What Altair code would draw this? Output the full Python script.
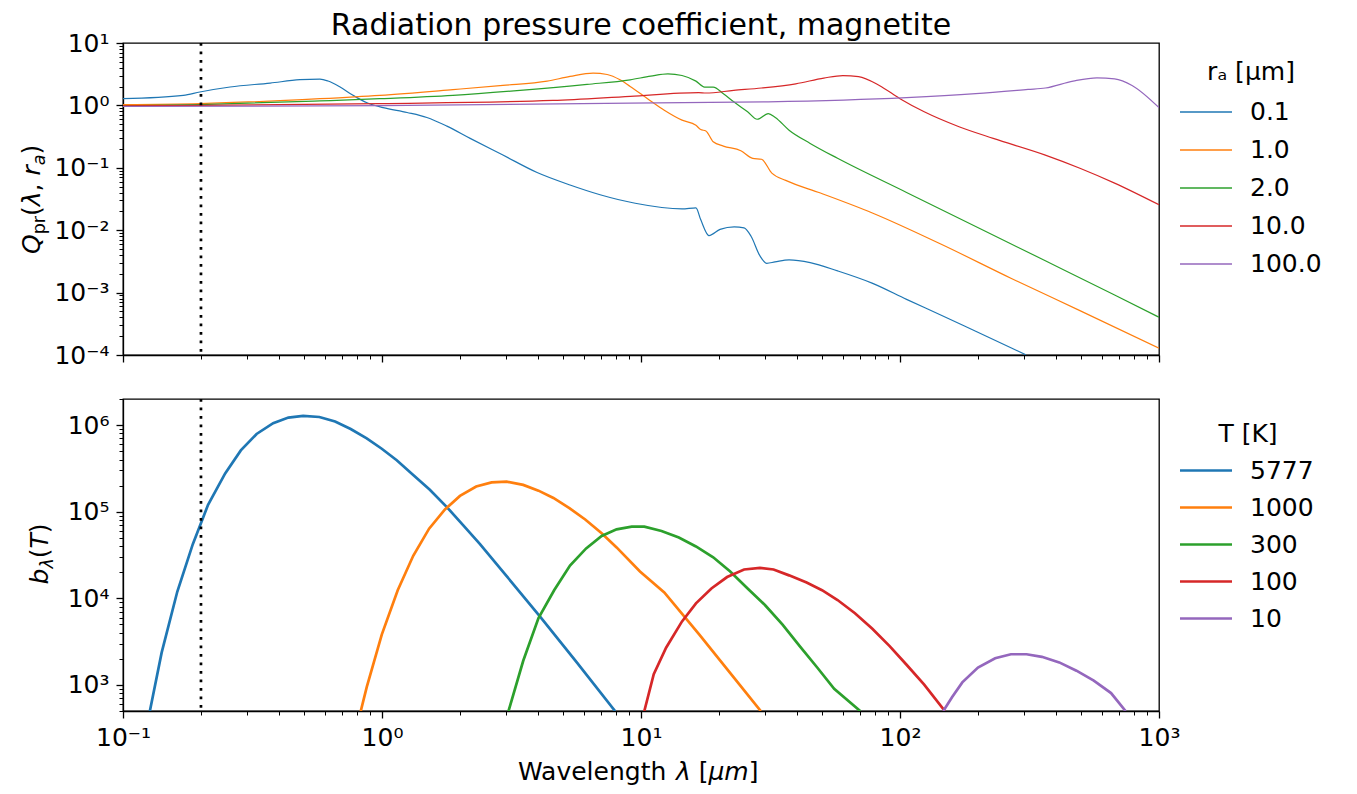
import altair as alt
import pandas as pd

FONT = "DejaVu Sans"
TAB10 = ["#1f77b4", "#ff7f0e", "#2ca02c", "#d62728", "#9467bd"]

# ---------------- Top panel: radiation pressure coefficient ----------------
r_labels = ["0.1", "1.0", "2.0", "10.0", "100.0"]

q_r01_wl = [0.1, 0.171, 0.198, 0.259, 0.370, 0.482, 0.576, 0.619, 0.689, 0.773, 0.875, 1.01,
            1.25, 1.49, 1.78, 2.19, 2.93, 3.97, 5.32, 6.95, 9.5, 14.4, 16.3, 17.0, 18.3, 20.2,
            22.9, 25.0, 26.6, 28.8, 30.6, 32.9, 37.3, 45.0, 57.4, 78, 106, 145, 196, 268, 306]
q_r01 = [1.28, 1.45, 1.64, 1.97, 2.28, 2.58, 2.64, 2.46, 1.97, 1.45, 1.10, 0.92, 0.77, 0.64,
         0.465, 0.296, 0.160, 0.084, 0.053, 0.037, 0.027, 0.0219, 0.0228, 0.0148, 0.0082, 0.0103,
         0.0113, 0.0109, 0.0080, 0.00387, 0.00295, 0.0031, 0.00334, 0.00303, 0.00223, 0.00142,
         0.00078, 0.00043, 0.00024, 0.000131, 0.000101]

q_r1_wl = [0.1, 0.198, 0.576, 0.982, 1.88, 2.93, 4.34, 5.32, 6.53, 7.40, 8.30, 9.08, 10.6, 12.3,
           14.4, 16.3, 17.0, 17.8, 19.0, 20.8, 24.3, 27.0, 29.2, 32.0, 36.2, 49.3, 78.2, 145, 268,
           495, 1000]
q_r1 = [1.03, 1.07, 1.28, 1.45, 1.79, 2.09, 2.45, 2.91, 3.29, 3.13, 2.57, 2.01, 1.28, 0.836, 0.58,
        0.48, 0.41, 0.39, 0.262, 0.223, 0.188, 0.142, 0.137, 0.082, 0.0628, 0.0394, 0.0189, 0.0059,
        0.0017, 0.000515, 0.000129]

q_r2_wl = [0.1, 0.198, 0.576, 0.982, 1.88, 3.41, 6.19, 9.08, 10.9, 12.7, 14.4, 16.3, 17.6, 19.0,
           20.8, 22.8, 25.8, 28.1, 31.0, 33.0, 37.3, 45.0, 57.4, 106, 196, 364, 674, 1000]
q_r2 = [0.98, 1.03, 1.18, 1.28, 1.45, 1.74, 2.17, 2.57, 2.95, 3.21, 3.01, 2.45, 1.97, 1.97, 1.54,
        1.14, 0.79, 0.60, 0.74, 0.64, 0.40, 0.246, 0.142, 0.0403, 0.01146, 0.00324, 0.000917,
        0.000403]

q_r10_wl = [0.1, 0.198, 0.982, 4.57, 9.08, 16.7, 17.8, 22.8, 29.2, 39.6, 50.8, 60.2, 69.2, 83.2,
            100, 124, 169, 229, 364, 495, 674, 1000]
q_r10 = [0.98, 1.0, 1.07, 1.2, 1.40, 1.60, 1.58, 1.74, 1.90, 2.22, 2.74, 3.01, 2.90, 2.09, 1.28,
         0.79, 0.455, 0.296, 0.160, 0.0986, 0.0569, 0.0256]

q_r100_wl = [0.1, 1.0, 9.08, 31.0, 106, 196, 312, 364, 466, 576, 674, 787, 1000]
q_r100 = [0.96, 0.99, 1.09, 1.14, 1.33, 1.54, 1.80, 1.90, 2.45, 2.77, 2.67, 2.09, 0.92]

# ---------------- Bottom panel: Planck function ----------------
t_labels = ["5777", "1000", "300", "100", "10"]

b_5777_wl = [0.127, 0.141, 0.162, 0.186, 0.213, 0.248, 0.285, 0.328, 0.380, 0.435, 0.496, 0.573,
             0.659, 0.757, 0.873, 0.998, 1.14, 1.32, 1.53, 1.78, 2.06, 2.39, 2.94, 4.07, 5.65, 7.94]
b_5777 = [500, 2360, 11900, 42200, 120000, 277000, 510000, 789000, 1050000, 1220000, 1280000,
          1240000, 1100000, 900000, 703000, 533000, 392000, 265000, 179000, 113000, 69500, 42200,
          20100, 6170, 1820, 500]

b_1000_wl = [0.828, 0.873, 0.998, 1.15, 1.32, 1.52, 1.75, 2.00, 2.31, 2.65, 3.03, 3.51, 4.02, 4.59,
             5.29, 6.09, 7.05, 8.05, 9.91, 12.3, 16.8, 22.8, 29.0]
b_1000 = [500, 942, 3810, 12400, 31000, 63700, 106000, 152000, 195000, 218000, 222000, 204000,
          175000, 144000, 110000, 81300, 56300, 38700, 20400, 11700, 3810, 1220, 500]

b_300_wl = [3.08, 3.51, 4.02, 4.62, 5.32, 6.14, 7.05, 8.05, 9.21, 10.3, 12.0, 14.0, 16.3, 19.0,
            22.1, 25.8, 30.1, 35.2, 41.0, 47.9, 55.7, 70.2]
b_300 = [500, 1900, 5900, 12400, 23900, 37700, 52500, 62500, 67100, 67100, 59800, 50300, 39700,
         29800, 20400, 13000, 8370, 4960, 2810, 1590, 900, 500]

b_100_wl = [10.3, 11.2, 12.5, 14.4, 16.3, 18.7, 21.5, 25.0, 28.8, 32.5, 37.3, 43.6, 50.0, 57.4,
            67.0, 78.2, 91.2, 106, 124, 149]
b_100 = [500, 1330, 2690, 5410, 8740, 13000, 17600, 21500, 22500, 21500, 18400, 15200, 12400,
         9550, 6730, 4460, 2810, 1710, 1010, 500]

b_10_wl = [147, 159, 174, 200, 233, 268, 308, 353, 412, 480, 560, 653, 743]
b_10 = [500, 724, 1070, 1590, 2030, 2260, 2260, 2110, 1820, 1460, 1120, 805, 500]

marker_wavelength = 0.2

# axis ticks
x_major = [0.1, 1, 10, 100, 1000]
x_exps = [-1, 0, 1, 2, 3]
x_minor = [k * 10.0 ** e for e in range(-1, 3) for k in range(2, 10)]
top_major = [1e-4, 1e-3, 1e-2, 1e-1, 1, 10]
top_exps = [-4, -3, -2, -1, 0, 1]
top_minor = [k * 10.0 ** e for e in range(-4, 1) for k in range(2, 10)]
bot_major = [1e3, 1e4, 1e5, 1e6]
bot_exps = [3, 4, 5, 6]
bot_minor = [k * 100.0 for k in range(5, 10)] + \
            [k * 10.0 ** e for e in range(3, 6) for k in range(2, 10)] + [2e6]


def long_df(labels, wls, vals):
    rows = []
    for lab, wl, v in zip(labels, wls, vals):
        for w, y in zip(wl, v):
            rows.append({"wl": w, "val": y, "series": lab})
    return pd.DataFrame(rows)


top_df = long_df(r_labels, [q_r01_wl, q_r1_wl, q_r2_wl, q_r10_wl, q_r100_wl],
                 [q_r01, q_r1, q_r2, q_r10, q_r100])
bot_df = long_df(t_labels, [b_5777_wl, b_1000_wl, b_300_wl, b_100_wl, b_10_wl],
                 [b_5777, b_1000, b_300, b_100, b_10])

SUP = str.maketrans("-0123456789", "⁻⁰¹²³⁴⁵⁶⁷⁸⁹")


def pow_expr(exps):
    e = "round(log(datum.value)/LN10)"
    expr = "''"
    for k in reversed(exps):
        expr = f"({e} == {k}) ? '10{str(k).translate(SUP)}' : ({expr})"
    return expr


def major_axis(orient, values, exps, labels=True):
    kw = dict(orient=orient, values=values, tickSize=7, tickWidth=1.3, tickColor="black",
              domainColor="black", domainWidth=1.3, grid=False, labelFontSize=25,
              labelFont=FONT, labelColor="black", labelPadding=7, labelFlush=False,
              labelOverlap=False)
    if labels:
        kw["labelExpr"] = pow_expr(exps)
    else:
        kw["labels"] = False
    return alt.Axis(**kw)


def minor_axis(orient, values):
    return alt.Axis(orient=orient, values=values, tickSize=4, tickWidth=1, tickColor="black",
                    domain=False, labels=False, grid=False)


def txt(text, x, y, size=25, style="normal", angle=0, align="left"):
    return alt.Chart(alt.Data(values=[{"k": 0}])).mark_text(
        text=text, fontSize=size, fontStyle=style, font=FONT, angle=angle, align=align,
        baseline="alphabetic", color="black").encode(x=alt.value(x), y=alt.value(y))


W, H = 1036, 312
xs = alt.Scale(type="log", domain=[0.1, 1000], nice=False)
ys_top = alt.Scale(type="log", domain=[1e-4, 10], nice=False)
ys_bot = alt.Scale(type="log", domain=[500, 2e6], nice=False)


def legend(title, lx, ly, sw, tp, size, half, loff):
    return alt.Legend(title=title, orient="none", legendX=lx, legendY=ly, titleFontSize=25,
                      titleFont=FONT, titleFontWeight="normal", titleColor="black",
                      titleAnchor="middle", titlePadding=tp, labelFontSize=25, labelFont=FONT,
                      labelColor="black", symbolType=f"M-{half},0H{half}", symbolSize=size,
                      symbolStrokeWidth=sw, symbolOpacity=1, labelOffset=loff, rowPadding=0,
                      padding=0)


rule_top = alt.Chart(alt.Data(values=[{"k": 0}])).mark_rule(
    color="black", strokeWidth=2.7, strokeDash=[2.7, 5.8]).encode(
    x=alt.X(datum=marker_wavelength, type="quantitative", scale=xs, axis=None))
rule_bot = rule_top

top_lines = alt.Chart(top_df).mark_line(strokeWidth=1.2, interpolate="monotone", clip=True).encode(
    x=alt.X("wl:Q", scale=xs, title=None, axis=major_axis("bottom", x_major, x_exps, labels=False)),
    y=alt.Y("val:Q", scale=ys_top, title=None, axis=major_axis("left", top_major, top_exps)),
    color=alt.Color("series:N", scale=alt.Scale(domain=r_labels, range=TAB10),
                    legend=legend("rₐ [μm]", 1058, 17, 1.4, 2, 2304, 1.083, 19)),
)
top_minor_layer = alt.Chart(top_df).mark_point(opacity=0, clip=True).encode(
    x=alt.X("wl:Q", scale=xs, title=None, axis=minor_axis("bottom", x_minor)),
    y=alt.Y("val:Q", scale=ys_top, title=None, axis=minor_axis("left", top_minor)),
)

top_texts = [
    txt("Radiation pressure coefficient, magnetite", W / 2, -8, size=30, align="center"),
    txt("Q", -83, 211, style="italic", angle=270),
    txt("pr", -78, 191.3, size=17.5, angle=270),
    txt("(", -83, 173.0, angle=270),
    txt("λ", -83, 163.25, style="italic", angle=270),
    txt(",", -83, 148.45, angle=270),
    txt("r", -83, 132.55, style="italic", angle=270),
    txt("a", -78, 122.25, size=17.5, style="italic", angle=270),
    txt(")", -83, 111.55, angle=270),
]

top = alt.layer(top_lines, top_minor_layer, rule_top, *top_texts).resolve_axis(
    x="independent", y="independent").properties(width=W, height=H)

bot_lines = alt.Chart(bot_df).mark_line(strokeWidth=2.7, clip=True).encode(
    x=alt.X("wl:Q", scale=xs, title=None, axis=major_axis("bottom", x_major, x_exps)),
    y=alt.Y("val:Q", scale=ys_bot, title=None, axis=major_axis("left", bot_major, bot_exps)),
    color=alt.Color("series:N", scale=alt.Scale(domain=t_labels, range=TAB10),
                    legend=legend("T [K]", 1059, 23, 2.7, -0.5, 2052, 1.148, 20)),
)
bot_minor_layer = alt.Chart(bot_df).mark_point(opacity=0, clip=True).encode(
    x=alt.X("wl:Q", scale=xs, title=None, axis=minor_axis("bottom", x_minor)),
    y=alt.Y("val:Q", scale=ys_bot, title=None, axis=minor_axis("left", bot_minor)),
)

bot_texts = [
    txt("b", -75, 185.5, style="italic", angle=270),
    txt("λ", -70, 169.6, size=17.5, style="italic", angle=270),
    txt("(", -75, 159.2, angle=270),
    txt("T", -75, 149.45, style="italic", angle=270),
    txt(")", -75, 134.15, angle=270),
    txt("Wavelength", 395, 381),
    txt("λ", 552.9, 381, style="italic"),
    txt("[", 575.65, 381),
    txt("μm", 585.4, 381, style="italic"),
    txt("]", 625.65, 381),
]

bottom = alt.layer(bot_lines, bot_minor_layer, rule_bot, *bot_texts).resolve_axis(
    x="independent", y="independent").properties(width=W, height=H)

chart = alt.vconcat(top, bottom, spacing=28).resolve_scale(
    color="independent", x="independent", y="independent").resolve_axis(
    x="independent", y="independent").resolve_legend(color="independent").properties(
    padding={"left": 11, "top": 2, "right": 5, "bottom": 0}).configure(
    font=FONT).configure_view(stroke="black", strokeWidth=1.3)

chart.save("out.html", embed_options={"renderer": "svg", "actions": False})
